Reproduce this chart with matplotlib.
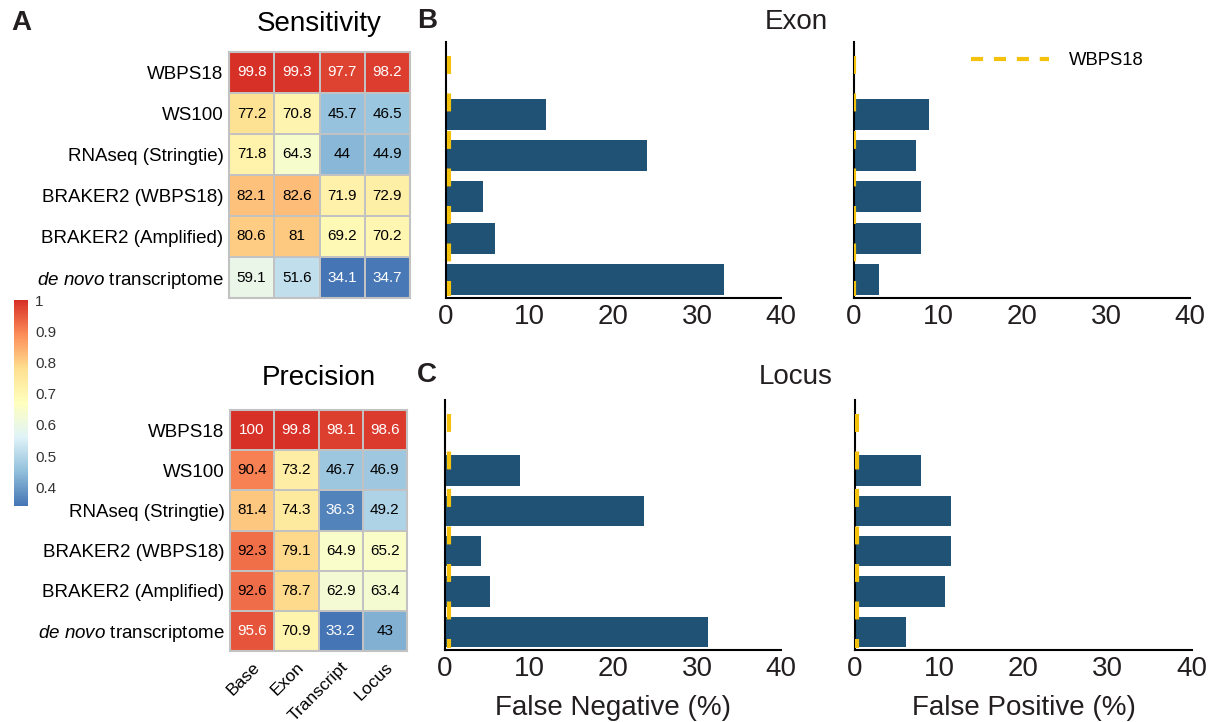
import numpy as np
import matplotlib
matplotlib.use('Agg')
import matplotlib.pyplot as plt
from matplotlib.colors import LinearSegmentedColormap, Normalize
from matplotlib.cm import ScalarMappable
from matplotlib.lines import Line2D

plt.rcParams['font.family'] = ['Liberation Sans', 'DejaVu Sans']
plt.rcParams['mathtext.fontset'] = 'custom'
plt.rcParams['mathtext.rm'] = 'Liberation Sans'
plt.rcParams['mathtext.it'] = 'Liberation Sans:italic'

# ---------------- data ----------------
methods = ['WBPS18', 'WS100', 'RNAseq (Stringtie)', 'BRAKER2 (WBPS18)',
           'BRAKER2 (Amplified)', r'$\it{de\ novo}$ transcriptome']
levels = ['Base', 'Exon', 'Transcript', 'Locus']

sensitivity = [[99.8, 99.3, 97.7, 98.2],
               [77.2, 70.8, 45.7, 46.5],
               [71.8, 64.3, 44, 44.9],
               [82.1, 82.6, 71.9, 72.9],
               [80.6, 81, 69.2, 70.2],
               [59.1, 51.6, 34.1, 34.7]]
precision = [[100, 99.8, 98.1, 98.6],
             [90.4, 73.2, 46.7, 46.9],
             [81.4, 74.3, 36.3, 49.2],
             [92.3, 79.1, 64.9, 65.2],
             [92.6, 78.7, 62.9, 63.4],
             [95.6, 70.9, 33.2, 43]]

exon_fn = [0, 11.9, 24.0, 4.4, 5.85, 33.2]
exon_fp = [0, 8.9, 7.4, 8.0, 8.0, 3.0]
locus_fn = [0, 8.9, 23.7, 4.3, 5.35, 31.3]
locus_fp = [0, 7.8, 11.4, 11.4, 10.7, 6.0]
wbps18_ref = {'exon_fn': 0.4, 'exon_fp': 0.05, 'locus_fn': 0.45, 'locus_fp': 0.2}

xticks = [0, 10, 20, 30, 40]
cbar_ticks = [0.4, 0.5, 0.6, 0.7, 0.8, 0.9, 1.0]
cbar_ticklabels = ['0.4', '0.5', '0.6', '0.7', '0.8', '0.9', '1']

# ---------------- style ----------------
W, H = 1216, 722
BAR_COLOR = '#1f5274'
REF_COLOR = '#f4c20d'
GRID_COLOR = '#c2c2c2'
TXT = '#231f20'
cmap = LinearSegmentedColormap.from_list(
    'pheat', ['#4575B4', '#91BFDB', '#E0F3F8', '#FFFFBF', '#FEE090', '#FC8D59', '#D73027'])
norm = Normalize(vmin=0.34, vmax=1.0)

fig = plt.figure(figsize=(W / 100, H / 100), dpi=100)


def fax(x0, y0, x1, y1):
    return fig.add_axes([x0 / W, 1 - y1 / H, (x1 - x0) / W, (y1 - y0) / H])


def heat(ax, data, show_cols):
    arr = np.array(data, dtype=float) / 100
    ax.pcolormesh(arr, cmap=cmap, norm=norm, edgecolors=GRID_COLOR, linewidth=1.2)
    ax.set_xlim(0, 4)
    ax.set_ylim(6, 0)
    for i in range(arr.shape[0]):
        for j in range(arr.shape[1]):
            v = data[i][j]
            c = 'white' if (v > 95 or v < 40) else 'black'
            ax.text(j + 0.5, i + 0.5, f'{v:g}', ha='center', va='center',
                    fontsize=11, color=c)
    ax.set_yticks(np.arange(6) + 0.5)
    ax.set_yticklabels(methods, fontsize=13.5)
    ax.tick_params(length=0, pad=4)
    if show_cols:
        ax.set_xticks(np.arange(4) + 0.5)
        ax.set_xticklabels(levels, rotation=45, ha='right', va='top',
                           rotation_mode='anchor', fontsize=12.5)
        ax.tick_params(axis='x', pad=6)
    else:
        ax.set_xticks([])
    for s in ax.spines.values():
        s.set_color(GRID_COLOR)
        s.set_linewidth(1.5)


ax_s = fax(229, 52, 410, 298)
heat(ax_s, sensitivity, False)
ax_p = fax(230, 410, 407, 651)
heat(ax_p, precision, True)

# colorbar
cax = fax(14, 300, 28, 506)
cb = fig.colorbar(ScalarMappable(norm=norm, cmap=cmap), cax=cax)
cb.set_ticks(cbar_ticks)
cb.set_ticklabels(cbar_ticklabels)
cb.outline.set_visible(False)
cax.tick_params(length=0, pad=5, labelsize=11, labelcolor='#333333')


def bars(ax, vals, ref, xlabel=None):
    y = np.arange(len(vals))
    ax.barh(y, vals, height=0.75, color=BAR_COLOR, zorder=2)
    ax.plot([ref, ref], [-0.4, 5.4], color=REF_COLOR, lw=3, dashes=(4.3, 4.7),
            zorder=3, solid_capstyle='butt', dash_capstyle='butt')
    ax.set_xlim(0, 40)
    ax.set_ylim(5.45, -0.75)
    ax.set_xticks(xticks)
    ax.set_yticks([])
    for s in ['top', 'right']:
        ax.spines[s].set_visible(False)
    for s in ['left', 'bottom']:
        ax.spines[s].set_linewidth(1.5)
        ax.spines[s].set_color('black')
    ax.tick_params(axis='x', length=0, labelsize=20, pad=4, labelcolor=TXT)
    if xlabel:
        ax.set_xlabel(xlabel, fontsize=20, color=TXT, labelpad=10)


ax_b1 = fax(446, 42, 781, 298)
bars(ax_b1, exon_fn, wbps18_ref['exon_fn'])
ax_b2 = fax(854, 42, 1190, 298)
bars(ax_b2, exon_fp, wbps18_ref['exon_fp'])
ax_c1 = fax(445, 400, 781, 650)
bars(ax_c1, locus_fn, wbps18_ref['locus_fn'], 'False Negative (%)')
ax_c2 = fax(855, 400, 1192, 650)
bars(ax_c2, locus_fp, wbps18_ref['locus_fp'], 'False Positive (%)')

proxy = Line2D([], [], color=REF_COLOR, lw=3, dashes=(2.9, 2.6),
               dash_capstyle='butt')
ax_b2.legend([proxy], ['WBPS18'], loc='center left',
             bbox_to_anchor=(0.348, 0.926), frameon=False, borderpad=0,
             borderaxespad=0, handlelength=4.2, handletextpad=1.1, fontsize=13.3)

# titles
fig.text(319 / W, 1 - 24 / H, 'Sensitivity', ha='center', va='center', fontsize=20, color='black')
fig.text(319 / W, 1 - 378 / H, 'Precision', ha='center', va='center', fontsize=20, color='black')
fig.text(796 / W, 1 - 22 / H, 'Exon', ha='center', va='center', fontsize=20, color=TXT)
fig.text(796 / W, 1 - 377 / H, 'Locus', ha='center', va='center', fontsize=20, color=TXT)

# panel letters
fig.text(11 / W, 1 - 23 / H, 'A', ha='left', va='center', fontsize=20, fontweight='bold', color=TXT)
fig.text(417 / W, 1 - 21 / H, 'B', ha='left', va='center', fontsize=20, fontweight='bold', color=TXT)
fig.text(417 / W, 1 - 375 / H, 'C', ha='left', va='center', fontsize=20, fontweight='bold', color=TXT)

fig.savefig('out.png', dpi=100)
